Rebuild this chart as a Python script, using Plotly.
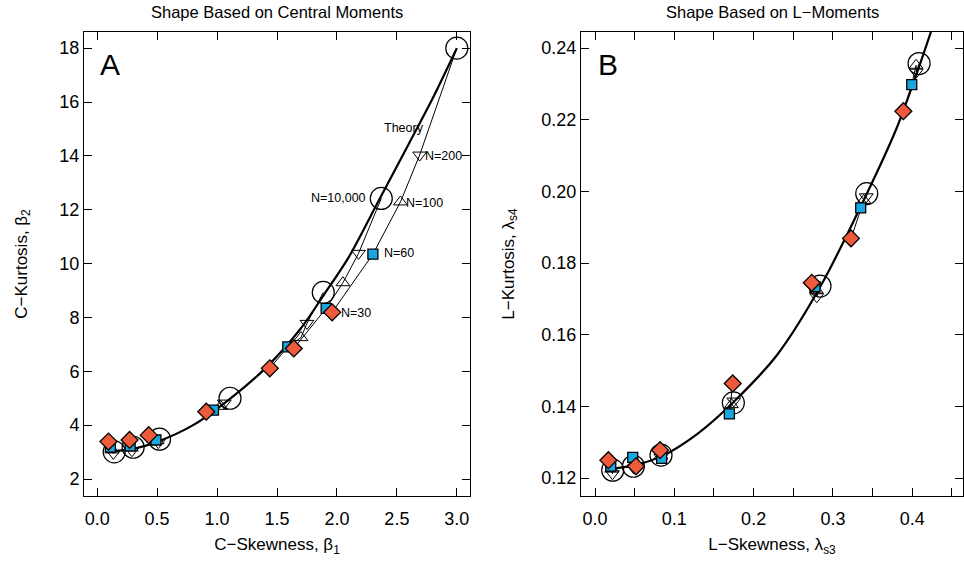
import plotly.graph_objects as go

# ---------------- Panel A: central moments ----------------
A_theory_x = [0.10, 0.30, 0.50, 0.80, 1.10, 1.40, 1.70, 1.90, 2.10, 2.35, 2.60, 2.80, 3.00]
A_theory_y = [3.02, 3.12, 3.38, 4.00, 4.95, 6.10, 7.60, 8.90, 10.25, 12.35, 14.45, 16.15, 18.00]

A_n30_x = [0.094, 0.27, 0.43, 0.91, 1.44, 1.64, 1.96]
A_n30_y = [3.39, 3.45, 3.63, 4.50, 6.11, 6.85, 8.19]
A_n60_x = [0.11, 0.275, 0.49, 0.97, 1.59, 1.91, 2.30]
A_n60_y = [3.18, 3.23, 3.45, 4.56, 6.91, 8.34, 10.35]
A_n100_x = [0.125, 0.285, 0.50, 1.03, 1.70, 2.05, 2.53]
A_n100_y = [3.08, 3.15, 3.42, 4.70, 7.25, 9.29, 12.29]
A_n200_x = [0.135, 0.29, 0.51, 1.06, 1.75, 2.18, 2.69]
A_n200_y = [2.95, 3.05, 3.35, 4.82, 7.78, 10.38, 14.03]
A_n10k_x = [0.142, 0.30, 0.52, 1.108, 1.886, 2.37, 3.00]
A_n10k_y = [3.01, 3.18, 3.48, 5.00, 8.93, 12.42, 18.00]

A_xticks = [0.0, 0.5, 1.0, 1.5, 2.0, 2.5, 3.0]
A_xticklabels = ["0.0", "0.5", "1.0", "1.5", "2.0", "2.5", "3.0"]
A_yticks = [2, 4, 6, 8, 10, 12, 14, 16, 18]

A_labels = ["Theory", "N=10,000", "N=200", "N=100", "N=60", "N=30"]
A_label_x = [2.56, 2.26, 2.72, 2.56, 2.38, 2.02]
A_label_y = [15.03, 12.45, 14.0, 12.25, 10.4, 8.15]
A_label_anchor = ["center", "right", "left", "left", "left", "left"]

# ---------------- Panel B: L-moments ----------------
B_theory_x = [0.020, 0.050, 0.085, 0.130, 0.175, 0.230, 0.285, 0.343, 0.380, 0.410, 0.425]
B_theory_y = [0.1225, 0.1236, 0.1262, 0.1325, 0.1413, 0.1545, 0.1738, 0.1995, 0.2175, 0.2357, 0.2455]

B_n30_x = [0.0168, 0.0517, 0.082, 0.1736, 0.2733, 0.3228, 0.3888]
B_n30_y = [0.1250, 0.1233, 0.1278, 0.1464, 0.1745, 0.1869, 0.2224]
B_n60_x = [0.0198, 0.0475, 0.084, 0.1694, 0.2774, 0.335, 0.3994]
B_n60_y = [0.1233, 0.1258, 0.1255, 0.1379, 0.1734, 0.1954, 0.2298]
B_n100_x = [0.021, 0.048, 0.083, 0.172, 0.279, 0.339, 0.4048]
B_n100_y = [0.1225, 0.1238, 0.1262, 0.1405, 0.1725, 0.1975, 0.2352]
B_n200_x = [0.022, 0.049, 0.083, 0.175, 0.2796, 0.342, 0.405]
B_n200_y = [0.1212, 0.1228, 0.1258, 0.1415, 0.1706, 0.1985, 0.2333]
B_n10k_x = [0.0223, 0.0483, 0.0832, 0.1744, 0.2837, 0.3426, 0.4086]
B_n10k_y = [0.1222, 0.1233, 0.1264, 0.1410, 0.1736, 0.1994, 0.2357]

B_xticks = [0.0, 0.1, 0.2, 0.3, 0.4]
B_xticklabels = ["0.0", "0.1", "0.2", "0.3", "0.4"]
B_yticks = [0.12, 0.14, 0.16, 0.18, 0.20, 0.22, 0.24]
B_yticklabels = ["0.12", "0.14", "0.16", "0.18", "0.20", "0.22", "0.24"]

RED = "#EE5A3C"
BLUE = "#1AA6DF"
FONT = "Liberation Sans"

fig = go.Figure()


def add_panel(xa, ya, th_x, th_y, sets):
    n30x, n30y, n60x, n60y, n100x, n100y, n200x, n200y, n10x, n10y = sets
    # thin connecting lines for each distribution (N=30 -> 60 -> 100 -> 200 -> 10,000)
    for i in range(len(n10x)):
        fig.add_trace(go.Scatter(
            x=[n30x[i], n60x[i], n100x[i], n200x[i], n10x[i]],
            y=[n30y[i], n60y[i], n100y[i], n200y[i], n10y[i]],
            mode="lines", line=dict(color="black", width=1),
            xaxis=xa, yaxis=ya, showlegend=False, hoverinfo="skip"))
    # theory
    fig.add_trace(go.Scatter(x=th_x, y=th_y, mode="lines",
                             line=dict(color="black", width=2.2, shape="spline", smoothing=0.8),
                             xaxis=xa, yaxis=ya, showlegend=False, hoverinfo="skip"))
    fig.add_trace(go.Scatter(x=n10x, y=n10y, mode="markers",
                             marker=dict(symbol="circle-open", size=22, color="black", line=dict(width=1.2)),
                             xaxis=xa, yaxis=ya, showlegend=False))
    fig.add_trace(go.Scatter(x=n200x, y=n200y, mode="markers",
                             marker=dict(symbol="triangle-down-open", size=12, color="black", line=dict(width=1)),
                             xaxis=xa, yaxis=ya, showlegend=False))
    fig.add_trace(go.Scatter(x=n100x, y=n100y, mode="markers",
                             marker=dict(symbol="triangle-up-open", size=12, color="black", line=dict(width=1)),
                             xaxis=xa, yaxis=ya, showlegend=False))
    fig.add_trace(go.Scatter(x=n60x, y=n60y, mode="markers",
                             marker=dict(symbol="square", size=10, color=BLUE, line=dict(color="black", width=1.3)),
                             xaxis=xa, yaxis=ya, showlegend=False))
    fig.add_trace(go.Scatter(x=n30x, y=n30y, mode="markers",
                             marker=dict(symbol="diamond", size=13, color=RED, line=dict(color="black", width=1.3)),
                             xaxis=xa, yaxis=ya, showlegend=False))


add_panel("x", "y", A_theory_x, A_theory_y,
          [A_n30_x, A_n30_y, A_n60_x, A_n60_y, A_n100_x, A_n100_y, A_n200_x, A_n200_y, A_n10k_x, A_n10k_y])
add_panel("x2", "y2", B_theory_x, B_theory_y,
          [B_n30_x, B_n30_y, B_n60_x, B_n60_y, B_n100_x, B_n100_y, B_n200_x, B_n200_y, B_n10k_x, B_n10k_y])

W, H = 964, 566
axA_x = [84 / W, 470 / W]
axB_x = [581 / W, 963 / W]
ax_y = [1 - 496 / H, 1 - 32 / H]

common = dict(showline=True, linecolor="black", linewidth=1, mirror="allticks",
              ticks="inside", ticklen=8, tickwidth=1, tickcolor="black",
              showgrid=False, zeroline=False,
              tickfont=dict(family=FONT, size=18, color="black"),
              title_font=dict(family=FONT, size=17, color="black"))

fig.update_layout(
    width=W, height=H, margin=dict(l=0, r=0, t=0, b=0),
    plot_bgcolor="white", paper_bgcolor="white",
    font=dict(family=FONT, color="black"),
    xaxis=dict(domain=axA_x, anchor="y", range=[-0.11, 3.11], tickvals=A_xticks, ticktext=A_xticklabels,
               ticklabelstandoff=6,
               title=dict(text="C−Skewness, β<sub>1</sub>", standoff=10), **common),
    yaxis=dict(domain=ax_y, anchor="x", range=[1.37, 18.6], tickvals=A_yticks,
               title=dict(text="C−Kurtosis, β<sub>2</sub>", standoff=27), **common),
    xaxis2=dict(domain=axB_x, anchor="y2", range=[-0.0177, 0.464], tickvals=B_xticks, ticktext=B_xticklabels,
                ticklabelstandoff=6,
                minor=dict(dtick=0.05, tick0=0, ticks="inside", ticklen=8, tickcolor="black", showgrid=False),
                title=dict(text="L−Skewness, λ<sub>s3</sub>", standoff=10), **common),
    yaxis2=dict(domain=ax_y, anchor="x2", range=[0.1150, 0.2445], tickvals=B_yticks, ticktext=B_yticklabels,
                title=dict(text="L−Kurtosis, λ<sub>s4</sub>", standoff=22), **common),
)

annotations = [
    dict(text="Shape Based on Central Moments", x=277 / W, y=1 - 12 / H, xref="paper", yref="paper",
         showarrow=False, font=dict(family=FONT, size=16.5, color="black"), xanchor="center", yanchor="middle"),
    dict(text="Shape Based on L−Moments", x=772 / W, y=1 - 12 / H, xref="paper", yref="paper",
         showarrow=False, font=dict(family=FONT, size=16.5, color="black"), xanchor="center", yanchor="middle"),
    dict(text="A", x=110 / W, y=1 - 64 / H, xref="paper", yref="paper", showarrow=False,
         font=dict(family=FONT, size=30, color="black"), xanchor="center", yanchor="middle"),
    dict(text="B", x=608 / W, y=1 - 64 / H, xref="paper", yref="paper", showarrow=False,
         font=dict(family=FONT, size=30, color="black"), xanchor="center", yanchor="middle"),
]
for t, lx, ly, anc in zip(A_labels, A_label_x, A_label_y, A_label_anchor):
    annotations.append(dict(text=t, x=lx, y=ly, xref="x", yref="y", showarrow=False,
                            font=dict(family=FONT, size=12.5, color="black"), xanchor=anc, yanchor="middle"))
fig.update_layout(annotations=annotations)

fig.write_html("out.html")
